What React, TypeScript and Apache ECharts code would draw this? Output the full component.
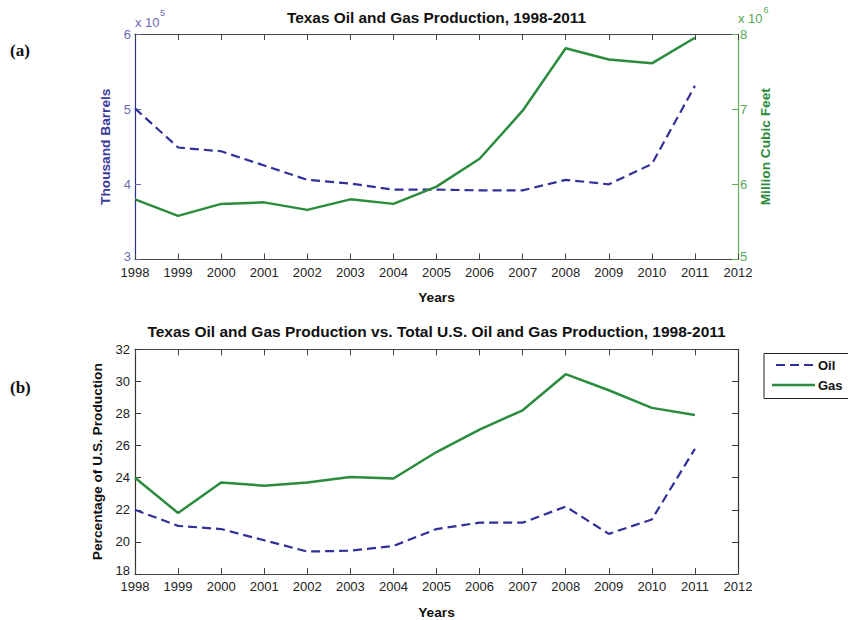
import React, { useEffect, useRef } from "react";
import * as echarts from "echarts";

const years = [1998, 1999, 2000, 2001, 2002, 2003, 2004, 2005, 2006, 2007, 2008, 2009, 2010, 2011];
// Texas oil production, thousand barrels (x 10^5)
const texasOil = [5.01, 4.49, 4.44, 4.25, 4.06, 4.01, 3.93, 3.93, 3.92, 3.92, 4.06, 4.0, 4.27, 5.31];
// Texas gas production, million cubic feet (x 10^6)
const texasGas = [5.8, 5.58, 5.74, 5.76, 5.66, 5.8, 5.74, 5.97, 6.34, 6.98, 7.81, 7.66, 7.61, 7.95];
// Percentage of U.S. production
const oilShare = [22.0, 21.0, 20.8, 20.1, 19.4, 19.45, 19.75, 20.8, 21.2, 21.2, 22.2, 20.5, 21.4, 25.8];
const gasShare = [24.0, 21.8, 23.7, 23.5, 23.7, 24.05, 23.95, 25.6, 27.0, 28.2, 30.45, 29.45, 28.35, 27.9];
const legendNames = ["Oil", "Gas"];

const OIL = "#30309a";
const GAS = "#2b8c3e";
const FONT = "'Liberation Sans', Arial, sans-serif";
const DASH = [9, 5];

const pair = (vals: number[]) => years.map((y, i) => [y, vals[i]]);

export default function App() {
  const ref = useRef<HTMLDivElement>(null);
  useEffect(() => {
    if (!ref.current) return;
    const chart = echarts.init(ref.current, null, { renderer: "svg" });
    const xBase = (grid: number, pos: "bottom" | "top", showLabel: boolean) => ({
      type: "value",
      gridIndex: grid,
      position: pos,
      min: 1998,
      max: 2012,
      interval: 1,
      splitLine: { show: false },
      axisLine: { lineStyle: { color: "#444", width: 1.2 } },
      axisTick: { show: true, inside: true, length: 6, lineStyle: { color: "#444" } },
      axisLabel: {
        show: showLabel,
        formatter: (v: number) => String(v),
        color: "#222",
        fontSize: 13,
        lineHeight: 13,
        fontFamily: FONT,
        margin: 6,
      },
      ...(showLabel
        ? {
            name: "Years",
            nameLocation: "middle",
            nameGap: 31,
            nameTextStyle: { color: "#111", fontWeight: "bold", fontSize: 13.7, fontFamily: FONT },
          }
        : {}),
    });
    const yLabel = (color: string, margin: number, min: number) => ({
      color,
      fontSize: 13,
      lineHeight: 10,
      fontFamily: FONT,
      margin,
      formatter: (v: number) => (v === min ? `{lo|${v}}` : String(v)),
      rich: {
        lo: { color, fontSize: 13, fontFamily: FONT, lineHeight: 10, padding: [0, 0, 7, 0] },
      },
    });
    const option: any = {
      animation: false,
      backgroundColor: "#fff",
      grid: [
        { left: 135, top: 34, width: 603, height: 225.5 },
        { left: 135, top: 349.3, width: 603, height: 225 },
      ],
      xAxis: [xBase(0, "bottom", true), xBase(0, "top", false), xBase(1, "bottom", true), xBase(1, "top", false)],
      yAxis: [
        {
          type: "value",
          gridIndex: 0,
          position: "left",
          min: 3,
          max: 6,
          interval: 1,
          splitLine: { show: false },
          axisLine: { show: true, lineStyle: { color: "#2e2e8f", width: 1.2 } },
          axisTick: { show: true, inside: true, length: 6, lineStyle: { color: "#6060b0" } },
          axisLabel: yLabel("#6a6ab4", 4, 3),
          name: "Thousand Barrels",
          nameLocation: "middle",
          nameRotate: 90,
          nameGap: 22,
          nameTextStyle: { color: "#3a3a9c", fontWeight: "bold", fontSize: 13.7, fontFamily: FONT },
        },
        {
          type: "value",
          gridIndex: 0,
          position: "right",
          min: 5,
          max: 8,
          interval: 1,
          splitLine: { show: false },
          axisLine: { show: true, lineStyle: { color: "#62ad62", width: 1.2 } },
          axisTick: { show: true, inside: true, length: 6, lineStyle: { color: "#62ad62" } },
          axisLabel: yLabel("#55a855", 2, 5),
          name: "Million Cubic Feet",
          nameLocation: "middle",
          nameRotate: 90,
          nameGap: 15,
          nameTextStyle: { color: "#2b8c3e", fontWeight: "bold", fontSize: 13.7, fontFamily: FONT },
        },
        {
          type: "value",
          gridIndex: 1,
          position: "left",
          min: 18,
          max: 32,
          interval: 2,
          splitLine: { show: false },
          axisLine: { show: true, lineStyle: { color: "#333", width: 1.2 } },
          axisTick: { show: true, inside: true, length: 6, lineStyle: { color: "#333" } },
          axisLabel: yLabel("#222", 5, 18),
          name: "Percentage of U.S. Production",
          nameLocation: "middle",
          nameRotate: 90,
          nameGap: 28,
          nameTextStyle: { color: "#111", fontWeight: "bold", fontSize: 13.7, fontFamily: FONT },
        },
        {
          type: "value",
          gridIndex: 1,
          position: "right",
          min: 18,
          max: 32,
          interval: 2,
          splitLine: { show: false },
          axisLine: { show: true, lineStyle: { color: "#333", width: 1.2 } },
          axisTick: { show: true, inside: true, length: 6, lineStyle: { color: "#333" } },
          axisLabel: { show: false },
        },
      ],
      series: [
        {
          name: "Texas Oil",
          type: "line",
          xAxisIndex: 0,
          yAxisIndex: 0,
          data: pair(texasOil),
          symbol: "none",
          lineStyle: { color: OIL, width: 2.2, type: DASH },
          itemStyle: { color: OIL },
        },
        {
          name: "Texas Gas",
          type: "line",
          xAxisIndex: 0,
          yAxisIndex: 1,
          data: pair(texasGas),
          symbol: "none",
          lineStyle: { color: GAS, width: 2.5 },
          itemStyle: { color: GAS },
        },
        {
          name: legendNames[0],
          type: "line",
          xAxisIndex: 2,
          yAxisIndex: 2,
          data: pair(oilShare),
          symbol: "none",
          lineStyle: { color: OIL, width: 2.2, type: DASH },
          itemStyle: { color: OIL },
        },
        {
          name: legendNames[1],
          type: "line",
          xAxisIndex: 2,
          yAxisIndex: 2,
          data: pair(gasShare),
          symbol: "none",
          lineStyle: { color: GAS, width: 2.5 },
          itemStyle: { color: GAS },
        },
      ],
      graphic: [
        {
          type: "text",
          x: 436.5,
          y: 17,
          style: {
            text: "Texas Oil and Gas Production, 1998-2011",
            textAlign: "center",
            textVerticalAlign: "middle",
            font: `bold 15.4px ${FONT}`,
            fill: "#111",
          },
        },
        {
          type: "text",
          x: 436.5,
          y: 331.5,
          style: {
            text: "Texas Oil and Gas Production vs. Total U.S. Oil and Gas Production, 1998-2011",
            textAlign: "center",
            textVerticalAlign: "middle",
            font: `bold 15.5px ${FONT}`,
            fill: "#111",
          },
        },
        {
          type: "text",
          x: 10,
          y: 50,
          style: { text: "(a)", textVerticalAlign: "middle", font: "bold 17px 'Liberation Serif', serif", fill: "#111" },
        },
        {
          type: "text",
          x: 10,
          y: 387,
          style: { text: "(b)", textVerticalAlign: "middle", font: "bold 17px 'Liberation Serif', serif", fill: "#111" },
        },
        {
          type: "text",
          x: 135,
          y: 22,
          style: { text: "x 10", textVerticalAlign: "middle", font: `13px ${FONT}`, fill: "#6a6ab4" },
        },
        {
          type: "text",
          x: 160,
          y: 13,
          style: { text: "5", textVerticalAlign: "middle", font: `9px ${FONT}`, fill: "#6a6ab4" },
        },
        {
          type: "text",
          x: 738,
          y: 18.5,
          style: { text: "x 10", textVerticalAlign: "middle", font: `13px ${FONT}`, fill: "#55a855" },
        },
        {
          type: "text",
          x: 763.5,
          y: 10,
          style: { text: "6", textVerticalAlign: "middle", font: `9px ${FONT}`, fill: "#55a855" },
        },
        {
          type: "rect",
          shape: { x: 764, y: 353.5, width: 100, height: 45 },
          style: { fill: "#fff", stroke: "#222", lineWidth: 1 },
        },
        {
          type: "line",
          shape: { x1: 776, y1: 365, x2: 815, y2: 365 },
          style: { stroke: OIL, lineWidth: 2.2, lineDash: DASH },
        },
        {
          type: "text",
          x: 818,
          y: 365,
          style: { text: legendNames[0], textVerticalAlign: "middle", font: `bold 13px ${FONT}`, fill: "#111" },
        },
        {
          type: "line",
          shape: { x1: 772, y1: 385, x2: 815, y2: 385 },
          style: { stroke: GAS, lineWidth: 2.5 },
        },
        {
          type: "text",
          x: 818,
          y: 385,
          style: { text: legendNames[1], textVerticalAlign: "middle", font: `bold 13px ${FONT}`, fill: "#111" },
        },
      ],
    };
    chart.setOption(option);
    return () => chart.dispose();
  }, []);
  return <div ref={ref} style={{ position: "absolute", left: 0, top: 0, width: 848, height: 620 }} />;
}
